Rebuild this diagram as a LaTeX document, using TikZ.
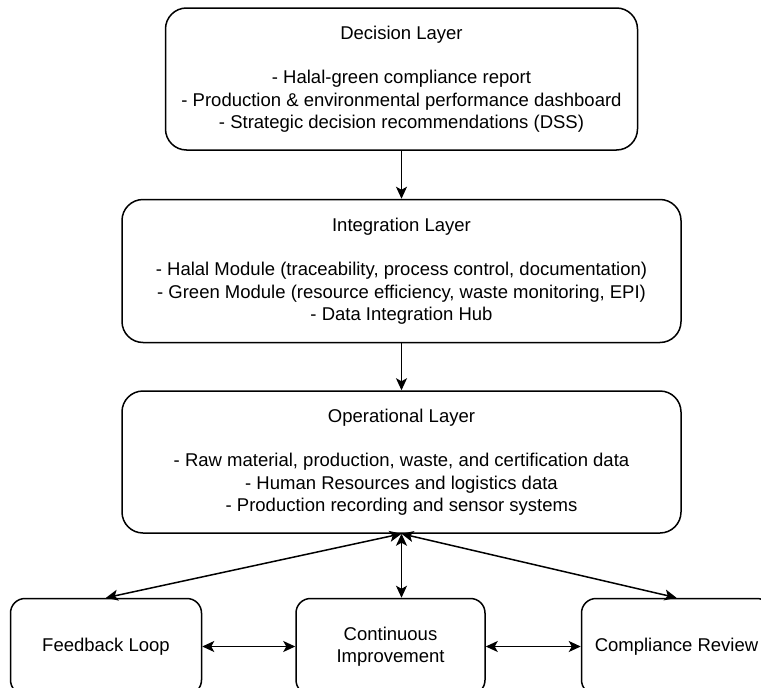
\documentclass[tikz,border=0pt]{standalone}
\usepackage{fontspec}
\setmainfont{Liberation Sans}
\usetikzlibrary{positioning,arrows.meta}

\begin{document}
\begin{tikzpicture}[x=1pt,y=-1pt,>={Stealth[length=12pt,width=11pt,inset=3pt]},
  node distance=48pt and 93pt,
  layer/.style={draw,line width=1.5pt,rounded corners=21pt,align=center,
    minimum width=559pt,minimum height=142pt,font=\fontsize{18.5}{22.3}\selectfont},
  loopbox/.style={draw,line width=1.5pt,rounded corners=14.5pt,align=center,
    minimum width=190pt,minimum height=96pt,font=\fontsize{18.5}{22.3}\selectfont},
  link/.style={line width=1.5pt}]
\useasboundingbox (0,0) rectangle (761,688);
\node[layer,minimum width=472pt] (dec) at (401.5,79) {Decision Layer\\[22.3pt]
  - Halal-green compliance report\\
  - Production \& environmental performance dashboard\\
  - Strategic decision recommendations (DSS)};
\node[layer,minimum height=143pt] (integ) [below=of dec] {Integration Layer\\[22.3pt]
  - Halal Module (traceability, process control, documentation)\\
  - Green Module (resource efficiency, waste monitoring, EPI)\\
  - Data Integration Hub};
\node[layer] (oper) [below=47pt of integ] {Operational Layer\\[22.3pt]
  - Raw material, production, waste, and certification data\\
  - Human Resources and logistics data\\
  - Production recording and sensor systems};
\node[loopbox,minimum width=189pt] (cont) [below=64pt of oper,xshift=-11pt] {Continuous\\Improvement};
\node[loopbox,minimum width=191pt] (fb) [left=93pt of cont] {Feedback Loop};
\node[loopbox] (cr) [right=95pt of cont] {Compliance Review};
\draw[link,->] (dec) -- (integ);
\draw[link,->] (integ) -- (oper);
\draw[link,<->] (oper.south) -- (oper.south |- cont.north);
\draw[link,<->] (oper.south) -- (fb.north);
\draw[link,<->] (oper.south) -- (cr.north);
\draw[link,<->] (fb) -- (cont);
\draw[link,<->] (cont) -- (cr);
\end{tikzpicture}
\end{document}
